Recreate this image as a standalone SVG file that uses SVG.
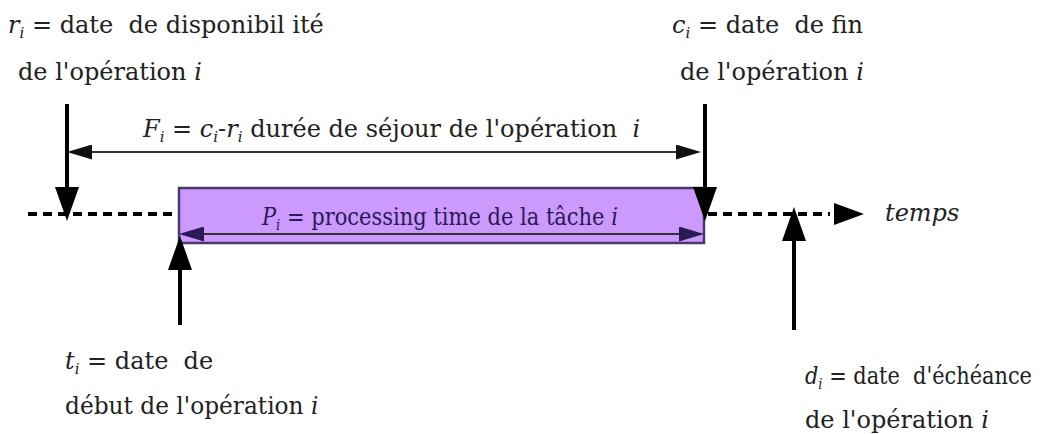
<svg xmlns="http://www.w3.org/2000/svg" width="1046" height="434" viewBox="0 0 1046 434">
<defs>
<style>
text{font-family:"DejaVu Serif",serif;font-size:24px;fill:#222;white-space:pre}
.it{font-style:italic}
.sub{font-style:italic;font-size:15px}
.thick{stroke:#000;stroke-width:4;fill:none}
.thin{stroke:#333;stroke-width:2;fill:none}
.dash{stroke:#000;stroke-width:4;stroke-dasharray:9 6;fill:none}
.box{fill:#cc99ff;stroke:#4a3a6a;stroke-width:2.5}
.intxt{fill:#2a1a55}
</style>
<marker id="big" markerUnits="userSpaceOnUse" viewBox="0 0 34 24" refX="26" refY="12" markerWidth="34" markerHeight="24" orient="auto">
<path d="M0,0 L34,12 L0,24 z" fill="#000"/>
</marker>
<marker id="small" markerUnits="userSpaceOnUse" viewBox="0 0 25 15" refX="22" refY="7.5" markerWidth="25" markerHeight="15" orient="auto-start-reverse">
<path d="M0,0 L25,7.5 L0,15 z" fill="#111"/>
</marker>
<marker id="smallp" markerUnits="userSpaceOnUse" viewBox="0 0 25 15" refX="22" refY="7.5" markerWidth="25" markerHeight="15" orient="auto-start-reverse">
<path d="M0,0 L25,7.5 L0,15 z" fill="#2a1a55"/>
</marker>
</defs>

<g id="timeline">
<line class="dash" x1="28" y1="214" x2="178" y2="214"/>
<line class="dash" x1="708" y1="214" x2="830" y2="214"/>
<path d="M834,203 L864,214 L834,225 z" fill="#000"/>
<text class="it" x="885" y="221">temps</text>
</g>

<g id="task-box">
<rect class="box" x="179" y="188" width="525" height="55"/>
<text class="intxt" x="262" y="225" transform="translate(262,0) scale(0.875,1) translate(-262,0)"><tspan class="it">P</tspan><tspan class="sub" dy="5">i</tspan><tspan dy="-5"> = processing time de la tâche </tspan><tspan class="it">i</tspan></text>
</g>

<g id="label-r">
<text x="8" y="33"><tspan class="it">r</tspan><tspan class="sub" dy="5">i</tspan><tspan dy="-5"> = date  de disponibil ité</tspan></text>
<text x="18" y="80">de l'opération <tspan class="it">i</tspan></text>
</g>

<g id="label-c">
<text x="672" y="33"><tspan class="it">c</tspan><tspan class="sub" dy="5">i</tspan><tspan dy="-5"> = date  de fin</tspan></text>
<text x="680" y="80">de l'opération <tspan class="it">i</tspan></text>
</g>

<g id="label-F">
<text x="143" y="137"><tspan class="it">F</tspan><tspan class="sub" dy="5">i</tspan><tspan dy="-5"> = </tspan><tspan class="it">c</tspan><tspan class="sub" dy="5">i</tspan><tspan dy="-5">-</tspan><tspan class="it">r</tspan><tspan class="sub" dy="5">i</tspan><tspan dy="-5"> durée de séjour de l'opération  </tspan><tspan class="it">i</tspan></text>
</g>

<g id="label-t">
<text x="65" y="369"><tspan class="it">t</tspan><tspan class="sub" dy="5">i</tspan><tspan dy="-5"> = date  de</tspan></text>
<text x="65" y="414" transform="translate(65,0) scale(0.97,1) translate(-65,0)">début de l'opération <tspan class="it">i</tspan></text>
</g>

<g id="label-d">
<text x="805" y="384" transform="translate(805,0) scale(0.87,1) translate(-805,0)"><tspan class="it">d</tspan><tspan class="sub" dy="5">i</tspan><tspan dy="-5"> = date  d'échéance</tspan></text>
<text x="805" y="428">de l'opération <tspan class="it">i</tspan></text>
</g>

<g id="connectors">
<line class="thin" x1="70" y1="152" x2="698" y2="152" marker-start="url(#small)" marker-end="url(#small)"/>
<line class="thin" x1="182" y1="234" x2="701" y2="234" stroke="#2a1a55" marker-start="url(#smallp)" marker-end="url(#smallp)"/>
<line class="thick" x1="67" y1="104" x2="67" y2="213" marker-end="url(#big)"/>
<line class="thick" x1="705" y1="104" x2="705" y2="213" marker-end="url(#big)"/>
<line class="thick" x1="180" y1="325" x2="180" y2="244" marker-end="url(#big)"/>
<line class="thick" x1="794" y1="330" x2="794" y2="215" marker-end="url(#big)"/>
</g>
</svg>
